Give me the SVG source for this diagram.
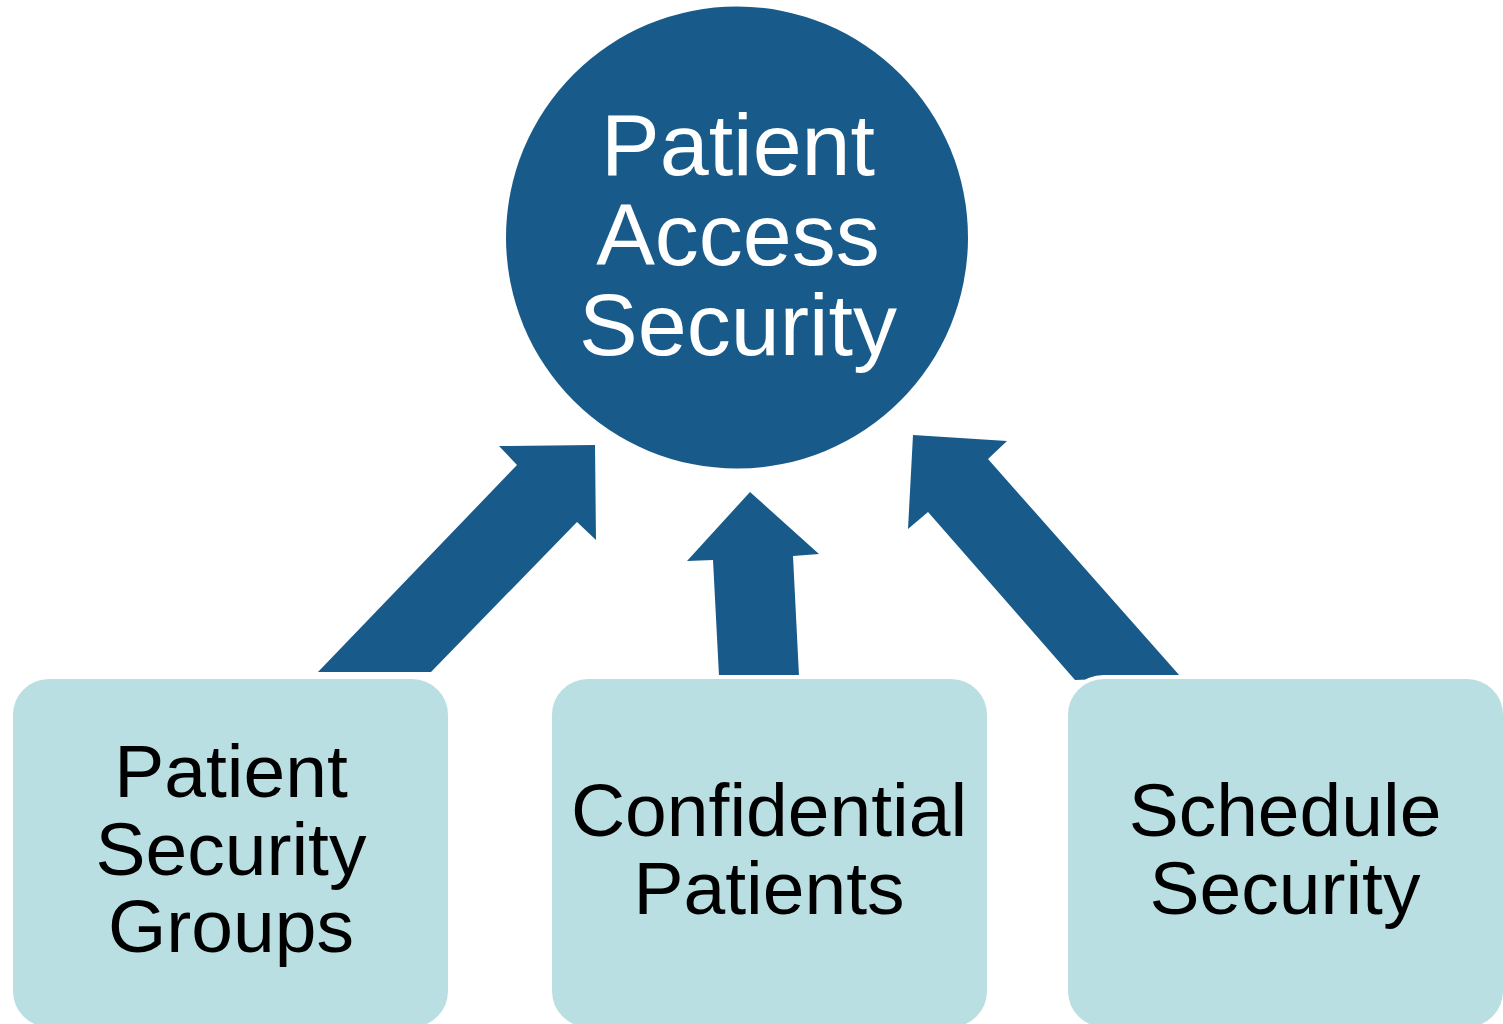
<svg xmlns="http://www.w3.org/2000/svg" width="1503" height="1024" viewBox="0 0 1503 1024">
<style>
.arrow{fill:#185B8A}
.hub{fill:#185B8A}
.box{fill:#B9DFE3;stroke:#FFFFFF;stroke-width:4}
.ht{font-family:"Liberation Sans",Arial,sans-serif;font-size:88px;fill:#FFFFFF;text-anchor:middle}
.bt{font-family:"Liberation Sans",Arial,sans-serif;font-size:75px;fill:#000000;text-anchor:middle}
</style>
<rect width="1503" height="1024" fill="#FFFFFF"/>
<g id="connectors">
<polygon class="arrow" points="595,445 499,446 517,465 318,672 431,672 577,522 596,540"/>
<polygon class="arrow" points="750,492 687,561 713,560 719,676 799,676 793,556 819,554"/>
<polygon class="arrow" points="913,435 1007,441 988,459 1180,676 1075,680 928,512 908,529"/>
</g>
<g id="hub">
<circle class="hub" cx="737" cy="237.5" r="231"/>
<text class="ht" x="738" y="175">Patient</text>
<text class="ht" x="738" y="265">Access</text>
<text class="ht" x="738" y="355">Security</text>
</g>
<g id="box-patient-security-groups">
<rect class="box" x="11" y="677" width="439" height="352" rx="38"/>
<text class="bt" x="231" y="797">Patient</text>
<text class="bt" x="231" y="875">Security</text>
<text class="bt" x="231" y="952">Groups</text>
</g>
<g id="box-confidential-patients">
<rect class="box" x="550" y="677" width="439" height="352" rx="38"/>
<text class="bt" x="769" y="836">Confidential</text>
<text class="bt" x="769" y="914">Patients</text>
</g>
<g id="box-schedule-security">
<rect class="box" x="1066" y="677" width="439" height="352" rx="38"/>
<text class="bt" x="1285" y="836">Schedule</text>
<text class="bt" x="1285" y="914">Security</text>
</g>
</svg>
